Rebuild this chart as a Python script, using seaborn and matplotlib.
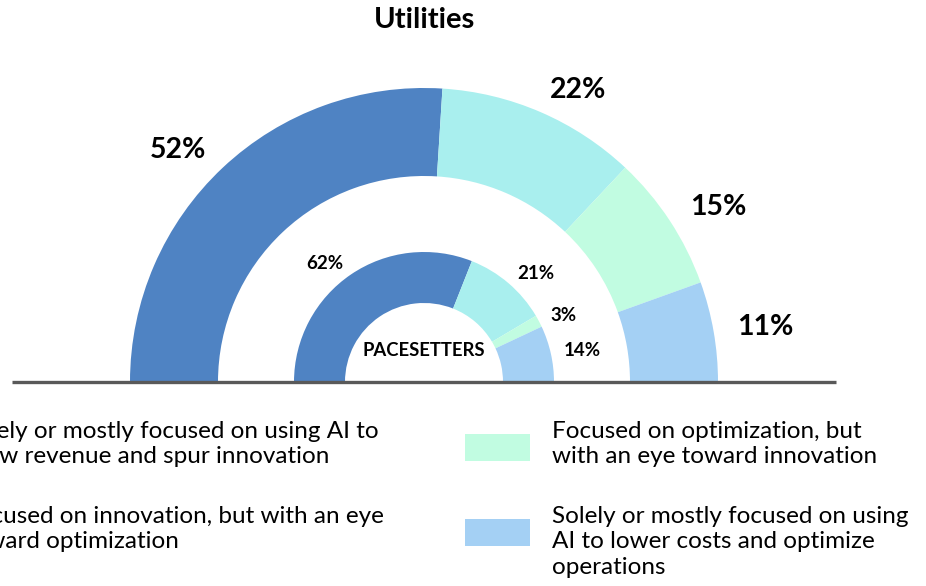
import numpy as np
import matplotlib.pyplot as plt
from matplotlib.patches import Rectangle
import seaborn as sns

# segments, left to right along the half donut
all_share = [52, 22, 15, 11]
pace_share = [62, 21, 3, 14]
seg_colors = ["#4F83C3", "#A9EFEE", "#C1FCE1", "#A4D0F4"]
legend_labels = [
    "Solely or mostly focused on using AI to\ngrow revenue and spur innovation",
    "Focused on innovation, but with an eye\ntoward optimization",
    "Focused on optimization, but\nwith an eye toward innovation",
    "Solely or mostly focused on using\nAI to lower costs and optimize\noperations",
]

sns.set_theme(style="white")
plt.rcParams['font.family'] = ['Lato', 'DejaVu Sans']

W, H = 926, 586
fig = plt.figure(figsize=(W / 100, H / 100), dpi=100)
ax = fig.add_axes([0, 0, 1, 1])

cx, cy = 424, 204


def half_donut(vals, r_out, width, lab_r, fs):
    total = sum(vals)
    wedges, _ = ax.pie(vals + [total], radius=r_out, center=(cx, cy),
                       startangle=180, counterclock=False,
                       colors=seg_colors + ["none"],
                       wedgeprops=dict(width=width, linewidth=0))
    start = 180.0
    for v in vals:
        span = 180.0 * v / total
        mid = np.deg2rad(start - span / 2)
        start -= span
        x = cx + lab_r * np.cos(mid)
        y = cy + lab_r * np.sin(mid)
        ha = "right" if np.cos(mid) < 0 else "left"
        ax.text(x, y, f"{v}%", ha=ha, va="center", fontsize=fs,
                fontweight="bold", color="black")


half_donut(all_share, 294, 88, 318, 20.5)
half_donut(pace_share, 130, 51, 143, 13.5)

ax.text(cx, 586 - 351, "PACESETTERS", ha="center", va="center",
        fontsize=13.3, fontweight="bold", color="black")

ax.plot([12, 836], [cy, cy], color="#595959", lw=2.4, solid_capstyle="butt")

ax.text(cx, 586 - 20, "Utilities", ha="center", va="center",
        fontsize=21, fontweight="bold", color="black")

# legend, two columns; left column partly outside the canvas
col_x = [-36, 552]
row_top = [586 - 421, 586 - 506]
for i, lab in enumerate(legend_labels):
    col, row = i // 2, i % 2
    tx = col_x[col]
    ax.add_patch(Rectangle((tx - 87, row_top[row] - 40), 65, 27,
                           color=seg_colors[i], lw=0))
    ax.text(tx, row_top[row], lab, ha="left", va="top", fontsize=17.5,
            color="black", linespacing=1.26)

ax.set_xlim(0, W)
ax.set_ylim(0, H)
ax.set_aspect("equal")
ax.axis("off")

fig.savefig("out.png", dpi=100)
